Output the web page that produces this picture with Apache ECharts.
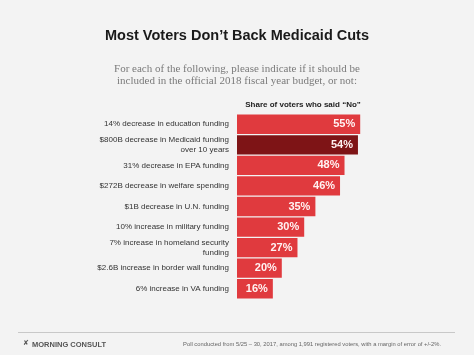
<!DOCTYPE html>
<html><head><meta charset="utf-8">
<script src="https://cdn.jsdelivr.net/npm/echarts@6/dist/echarts.min.js"></script>
<style>html,body{margin:0;padding:0;background:#f3f3f3;}#c{width:474px;height:355px;}</style>
</head><body><div id="c"></div>
<script>
const categories = [
  "14% decrease in education funding",
  "$800B decrease in Medicaid funding\nover 10 years",
  "31% decrease in EPA funding",
  "$272B decrease in welfare spending",
  "$1B decrease in U.N. funding",
  "10% increase in military funding",
  "7% increase in homeland security\nfunding",
  "$2.6B increase in border wall funding",
  "6% increase in VA funding"
];
const values = [55, 54, 48, 46, 35, 30, 27, 20, 16];
const highlightIndex = 1;

const chart = echarts.init(document.getElementById('c'), null, {renderer: 'canvas'});
chart.setOption({
  backgroundColor: '#f3f3f3',
  animation: false,
  title: [
    {text: 'Most Voters Don\u2019t Back Medicaid Cuts', left: 'center', top: 23,
     textStyle: {fontFamily: 'Liberation Sans, Arial, sans-serif', fontWeight: 'bold', fontSize: 14.5, color: '#1a1a1a'}},
    {text: 'For each of the following, please indicate if it should be\nincluded in the official 2018 fiscal year budget, or not:', left: 'center', top: 58,
     textStyle: {fontFamily: 'Liberation Serif, Times New Roman, serif', fontWeight: 'normal', fontSize: 11, lineHeight: 12, color: '#7a7a7a', align: 'center'}},
    {text: 'Share of voters who said \u201cNo\u201d', left: 298, top: 96, textAlign: 'center',
     textStyle: {fontFamily: 'Liberation Sans, Arial, sans-serif', fontWeight: 'bold', fontSize: 8, color: '#222'}}
  ],
  grid: {left: 237, right: 13, top: 114, bottom: 56, containLabel: false},
  xAxis: {type: 'value', min: 0, max: 100, show: false},
  yAxis: {
    type: 'category', inverse: true, data: categories,
    axisLine: {show: false}, axisTick: {show: false},
    axisLabel: {margin: 8, fontFamily: 'Liberation Sans, Arial, sans-serif', fontSize: 8, lineHeight: 10, color: '#333', align: 'right'}
  },
  series: [{
    type: 'bar', barCategoryGap: '6%',
    data: values.map((v, i) => ({value: v, itemStyle: {color: i === highlightIndex ? '#7e1416' : '#e03a3e'}})),
    label: {show: true, position: 'insideRight', distance: 5, formatter: '{c}%',
      fontFamily: 'Liberation Sans, Arial, sans-serif', fontWeight: 'bold', fontSize: 11, color: '#fff3f3'}
  }],
  graphic: [
    {type: 'line', shape: {x1: 18, y1: 332.5, x2: 455, y2: 332.5}, style: {stroke: '#c8c8c8', lineWidth: 1}},
    {type: 'text', left: 23, top: 340, style: {text: '\u2718', font: 'bold 7px DejaVu Sans', fill: '#555'}},
    {type: 'text', left: 32, top: 340.5, style: {text: 'MORNING CONSULT', font: 'bold 7.5px Liberation Sans, Arial, sans-serif', fill: '#555', letterSpacing: 0.6}},
    {type: 'text', right: 33, top: 341.5, style: {text: 'Poll conducted from 5/25 \u2013 30, 2017, among 1,991 registered voters, with a margin of error of +/-2%.', font: '5.8px Liberation Sans, Arial, sans-serif', fill: '#666'}}
  ]
});
</script></body></html>
